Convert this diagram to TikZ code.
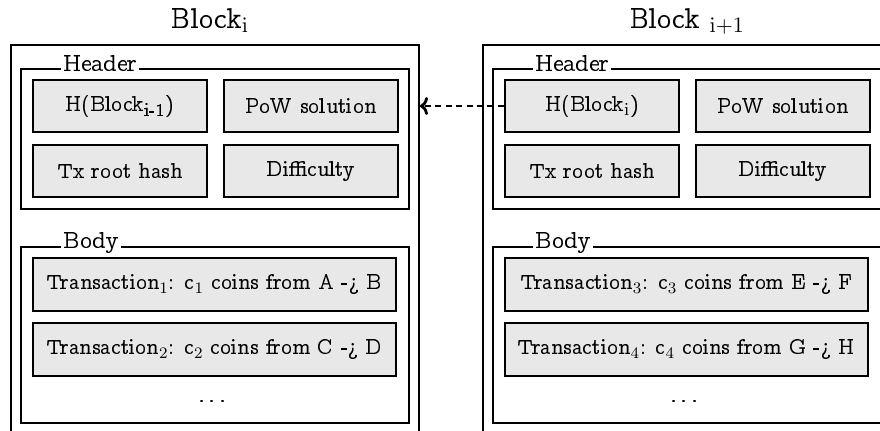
\documentclass[tikz,border=0pt]{standalone}
\usepackage[OT1]{fontenc}
\renewcommand{\rmdefault}{ccr}
\usepackage{amsmath}
\usetikzlibrary{arrows.meta}

% slightly larger subscripts for the sizes used below
\DeclareMathSizes{11}{11}{8.5}{6.5}
\DeclareMathSizes{11.3}{11.3}{8.7}{6.5}
\DeclareMathSizes{14}{14}{10.5}{8}

\definecolor{cellgray}{RGB}{232,232,232}

\tikzset{
  outerbox/.style={draw, line width=1pt, minimum width=204pt, minimum height=200pt, inner sep=0pt},
  framebox/.style={draw, line width=1pt, minimum width=194pt, inner sep=0pt},
  cell/.style={draw, line width=1.3pt, fill=cellgray, minimum width=87pt, minimum height=26pt, inner sep=0pt, font=\fontsize{11.3}{13}\selectfont},
  txcell/.style={draw, line width=1.3pt, fill=cellgray, minimum width=181.5pt, minimum height=26.5pt, inner sep=0pt, font=\fontsize{11}{13}\selectfont},
  framelabel/.style={fill=white, inner xsep=1pt, inner ysep=0pt, anchor=base west, font=\fontsize{13}{15}\selectfont},
  blocktitle/.style={anchor=base, font=\fontsize{14}{17}\selectfont},
  dotsnode/.style={anchor=base, font=\fontsize{13}{15}\selectfont},
  link/.style={-{To[length=4pt,width=9pt]}, dashed, line width=1.4pt, dash pattern=on 3pt off 2.2pt}
}

\begin{document}
\begin{tikzpicture}[x=0.5pt, y=-0.5pt]
  \useasboundingbox (0,0) rectangle (880,430);
  \clip (0,0) rectangle (880,430);

  % ---------- Block i ----------
  \node[outerbox] (L-outer) at (215,245) {};
  \node[blocktitle] (L-title) at (210,28) {Block$_{\mathrm{i}}$};

  \node[framebox, minimum height=70pt] (L-header) at (215,139) {};
  \node[framelabel] (L-hlabel) at (61,71) {Header};
  \node[cell] (L-h1) at (120,106) {H(Block$_{\text{i-1}}$)};
  \node[cell] (L-h2) at (311,106) {PoW solution};
  \node[cell] (L-h3) at (120,171) {Tx root hash};
  \node[cell] (L-h4) at (311,171) {Difficulty};

  \node[framebox, minimum height=88pt] (L-body) at (215,335) {};
  \node[framelabel] (L-blabel) at (61,248) {Body};
  \node[txcell] (L-t1) at (214.5,284.5) {Transaction$_1$: c$_1$ coins from A -\textquestiondown{} B};
  \node[txcell] (L-t2) at (214.5,349.5) {Transaction$_2$: c$_2$ coins from C -\textquestiondown{} D};
  \node[dotsnode] (L-dots) at (214,402) {\dots};

  % ---------- Block i+1 ----------
  \node[outerbox] (R-outer) at (687,245) {};
  \node[blocktitle] (R-title) at (687,28) {Block $_{\mathrm{i+1}}$};

  \node[framebox, minimum height=70pt] (R-header) at (687,139) {};
  \node[framelabel] (R-hlabel) at (533,71) {Header};
  \node[cell] (R-h1) at (592,106) {H(Block$_{\mathrm{i}}$)};
  \node[cell] (R-h2) at (783,106) {PoW solution};
  \node[cell] (R-h3) at (592,171) {Tx root hash};
  \node[cell] (R-h4) at (783,171) {Difficulty};

  \node[framebox, minimum height=88pt] (R-body) at (687,335) {};
  \node[framelabel] (R-blabel) at (533,248) {Body};
  \node[txcell] (R-t1) at (686.5,284.5) {Transaction$_3$: c$_3$ coins from E -\textquestiondown{} F};
  \node[txcell] (R-t2) at (686.5,349.5) {Transaction$_4$: c$_4$ coins from G -\textquestiondown{} H};
  \node[dotsnode] (R-dots) at (686,402) {\dots};

  % ---------- hash pointer ----------
  \draw[link] (R-h1.west) -- (L-outer.east |- R-h1.west);
\end{tikzpicture}
\end{document}
